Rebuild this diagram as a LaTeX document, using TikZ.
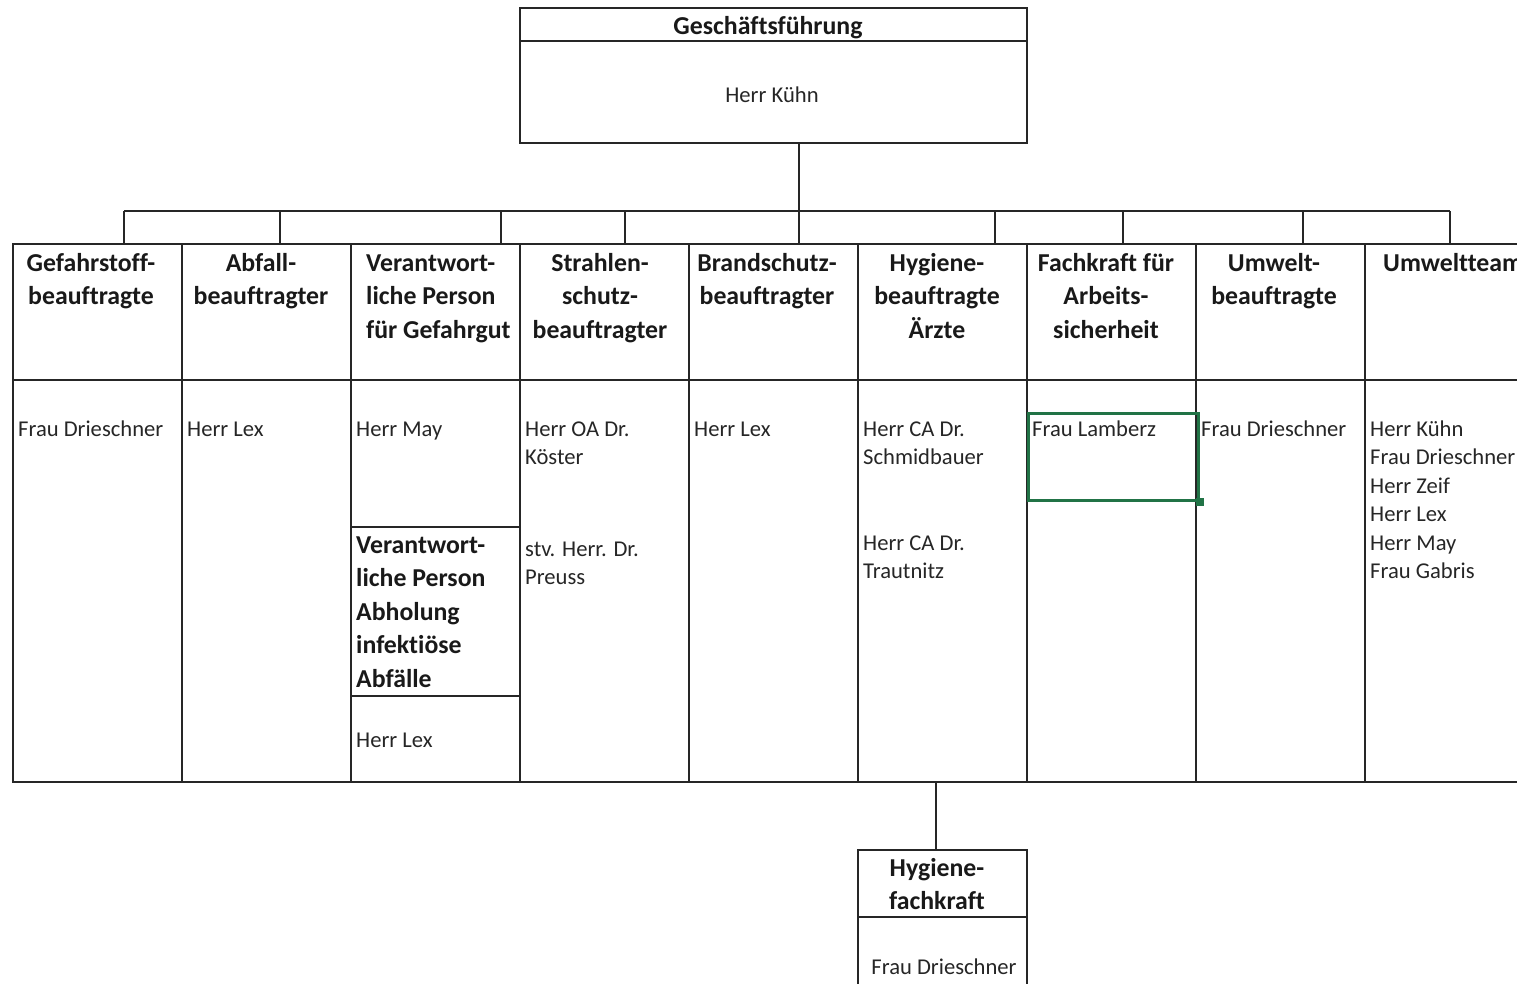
\documentclass[tikz,border=0pt]{standalone}
\usepackage{fontspec}
\setmainfont{Carlito}[Ligatures=NoCommon]
\definecolor{xlgreen}{RGB}{33,115,70}
\begin{document}
\begin{tikzpicture}[x=1pt,y=-1pt,
  ln/.style={line width=1.3pt, draw=black!85},
  cell/.style={ln, rectangle, inner sep=0pt, outer sep=0pt, anchor=north west},
  hd/.style={font=\fontsize{25.8}{33.5}\selectfont\bfseries, align=center, inner sep=0pt, anchor=base, text=black!90},
  hdl/.style={hd, align=left, anchor=base west},
  nm/.style={font=\fontsize{22.6}{28.5}\selectfont, align=left, inner sep=0pt, anchor=base west, text=black!85}]
\useasboundingbox (0,0) rectangle (1517,983);
\clip (0,0) rectangle (1517,983);
% top box
\node[cell, minimum width=507pt, minimum height=135pt] (gf) at (520,8) {};
\draw[ln] (520,41) -- (1027,41);
\node[hd] (gft) at (768,34) {Geschäftsführung};
\node[nm, anchor=base] (gfn) at (772,102) {Herr Kühn};
% columns
\foreach \i in {0,...,8} {
  \node[cell, minimum width=169pt, minimum height=136pt] (h\i) at ({13+169*\i},244) {};
  \node[cell, minimum width=169pt, minimum height=402pt] (b\i) at ({13+169*\i},380) {};
}
% connectors
\coordinate (bus) at (799,211);
\draw[ln] (gf.south -| bus) -- (bus);
\foreach \x/\i in {124/0,280/1,501/2,625/3,799/4,995/5,1123/6,1303/7,1450/8} {
  \coordinate (d\i) at (\x,211);
  \draw[ln] (d\i) -- (d\i |- h\i.north);
}
\draw[ln] (d0) -- (d8);
% headers (anchor = baseline of last line)
\node[hd] (t0) at (91,304.5) {Gefahrstoff-\\beauftragte};
\node[hd] (t1) at (261,304.5) {Abfall-\\beauftragter};
\node[hdl] (t2) at (366,338) {Verantwort-\\liche Person\\für Gefahrgut};
\node[hd] (t3) at (600,338) {Strahlen-\\schutz-\\beauftragter};
\node[hd] (t4) at (767,304.5) {Brandschutz-\\beauftragter};
\node[hd] (t5) at (937,338) {Hygiene-\\beauftragte\\Ärzte};
\node[hd] (t6) at (1106,338) {Fachkraft für\\Arbeits-\\sicherheit};
\node[hd] (t7) at (1274,304.5) {Umwelt-\\beauftragte};
\node[hdl] (t8) at (1383,271) {Umweltteam};
% body texts
\node[nm] (n0) at (18,436) {Frau Drieschner};
\node[nm] (n1) at (187,436) {Herr Lex};
\node[nm] (n2) at (356,436) {Herr May};
\node[nm] (n3) at (525,464.5) {Herr OA Dr.\\Köster};
\node[nm] (n3b) at (525,584.5) {stv. Herr. Dr.\\Preuss};
\node[nm] (n4) at (694,436) {Herr Lex};
\node[nm] (n5) at (863,464.5) {Herr CA Dr.\\Schmidbauer};
\node[nm] (n5b) at (863,578.5) {Herr CA Dr.\\Trautnitz};
\node[nm] (n6) at (1032,436) {Frau Lamberz};
\node[nm] (n7) at (1201,436) {Frau Drieschner};
\node[nm] (n8) at (1370,578.5) {Herr Kühn\\Frau Drieschner\\Herr Zeif\\Herr Lex\\Herr May\\Frau Gabris};
% sub cells in column 3
\draw[ln] (351,527) -- (520,527);
\draw[ln] (351,696) -- (520,696);
\node[hdl] (v2) at (356,687) {Verantwort-\\liche Person\\Abholung\\infektiöse\\Abfälle};
\node[nm] (n2b) at (356,747) {Herr Lex};
% selection
\node[draw=xlgreen, line width=2.5pt, minimum width=170pt, minimum height=87pt, anchor=north west, inner sep=0pt] (sel) at (1027,412) {};
\node[fill=xlgreen, minimum size=8pt, inner sep=0pt] (selh) at (sel.south east) {};
% bottom box
\coordinate (c5) at (936,782);
\node[cell, minimum width=169pt, minimum height=67pt] (hf) at (858,850) {};
\node[cell, minimum width=169pt, minimum height=120pt] (hfb) at (858,917) {};
\draw[ln] (c5) -- (c5 |- hf.north);
\node[hd] (hft) at (937,909.5) {Hygiene-\\fachkraft};
\node[nm, anchor=base] (hfn) at (944,974) {Frau Drieschner};
\end{tikzpicture}
\end{document}
